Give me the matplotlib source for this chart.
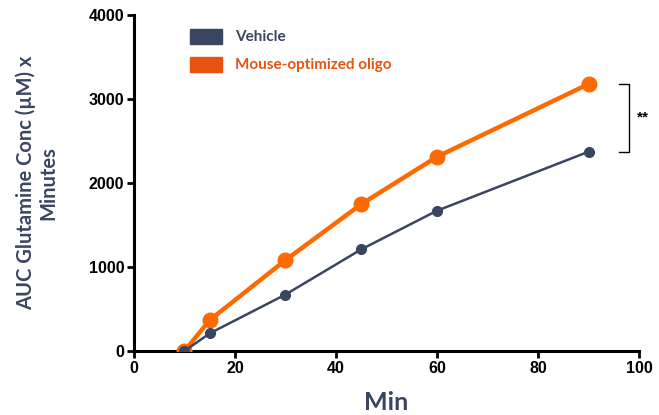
import matplotlib
matplotlib.use("Agg")
import matplotlib.pyplot as plt

minutes = [10, 15, 30, 45, 60, 90]
vehicle = [0, 210, 672, 1210, 1670, 2372]
oligo = [0, 368, 1082, 1748, 2312, 3178]
series_names = ["Vehicle", "Mouse-optimized oligo"]
x_ticks = [0, 20, 40, 60, 80, 100]
y_ticks = [0, 1000, 2000, 3000, 4000]

navy = "#3A4560"
orange = "#FF6A00"
orange_text = "#E8540F"

plt.rcParams["font.family"] = ["Liberation Sans", "DejaVu Sans"]

fig = plt.figure(figsize=(6.59, 4.15), dpi=100)
ax = fig.add_axes([0.2033, 0.1542, 0.7664, 0.8097])

ax.plot(minutes, oligo, color=orange, lw=3.2, marker="o", ms=10.5,
        solid_capstyle="round", zorder=3)
ax.plot(minutes, vehicle, color=navy, lw=1.8, marker="o", ms=7,
        zorder=4)

ax.set_xlim(0, 100)
ax.set_ylim(0, 4000)
ax.set_xticks(x_ticks, [str(v) for v in x_ticks],
              fontweight="bold", fontsize=11.5, family="Liberation Sans")
ax.set_yticks(y_ticks, [str(v) for v in y_ticks],
              fontweight="bold", fontsize=11.5, family="Liberation Sans")
for s in ["top", "right"]:
    ax.spines[s].set_visible(False)
for s in ["left", "bottom"]:
    ax.spines[s].set_linewidth(2.2)
ax.tick_params(width=2, length=5, pad=2)

ax.set_xlabel("Min", fontsize=18, fontweight="bold", color=navy,
              family="Lato", labelpad=11)
ax.set_ylabel("AUC Glutamine Conc (µM) x\nMinutes", fontsize=14.5,
              fontweight="bold", color=navy, family="Lato",
              linespacing=1.15, labelpad=22)

# legend drawn as coloured swatches with matching labels
for i, (name, col, tcol) in enumerate(zip(series_names, [navy, orange_text],
                                         [navy, orange_text])):
    y = 0.935 - i * 0.083
    ax.add_patch(plt.Rectangle((0.110, y - 0.022), 0.064, 0.046,
                               transform=ax.transAxes, color=col,
                               clip_on=False))
    ax.text(0.200, y, name, transform=ax.transAxes, color=tcol,
            fontsize=11, fontweight="bold", family="Lato", va="center")

# significance bracket between the two endpoints
bx0, bx1 = 96.0, 98.0
ax.plot([bx0, bx1, bx1, bx0], [oligo[-1], oligo[-1], vehicle[-1], vehicle[-1]],
        color="black", lw=1.0, clip_on=False)
ax.text(99.5, (oligo[-1] + vehicle[-1]) / 2, "**", fontsize=11,
        fontweight="bold", va="center", ha="left", clip_on=False)

fig.savefig("out.png", dpi=100)
